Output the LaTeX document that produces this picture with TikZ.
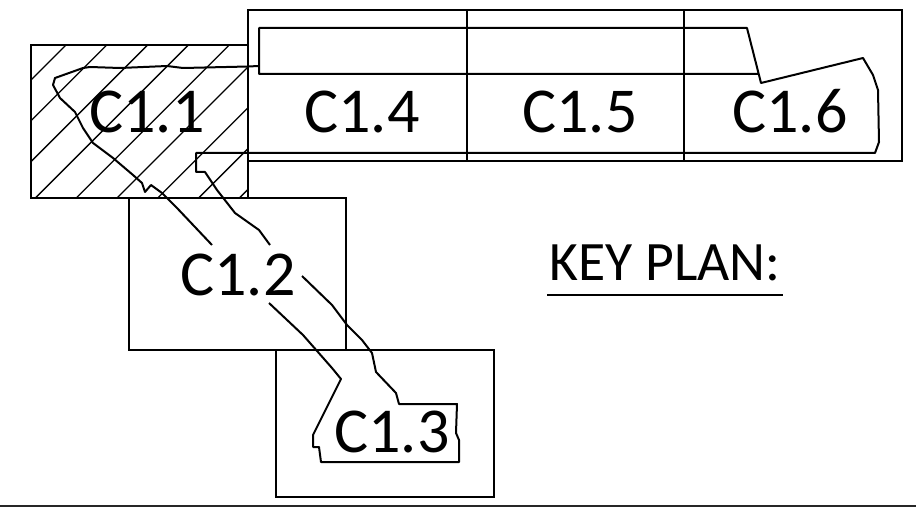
\documentclass[tikz,border=0pt]{standalone}
\usepackage{fontspec}
\setmainfont{Carlito}
\tikzset{
 box/.style={draw=black,line width=2.2pt,fill=none},
 outline/.style={draw=black,line width=2pt,line join=round},
 hatch/.style={draw=black,line width=1.3pt},
 lbl/.style={font=\fontsize{64}{64}\selectfont,text=black,inner sep=0pt,anchor=base},
 keylbl/.style={font=\fontsize{55.6}{56}\selectfont,text=black,inner sep=0pt,anchor=base}
}
\begin{document}
\begin{tikzpicture}[x=1pt,y=-1pt]
\useasboundingbox (0,0) rectangle (916,508);
\begin{scope}
\clip (31,45) rectangle (248,198);
\foreach \c in {111,151.8,192.6,233.4,274.2,315,355.8,396.6,437.4}{
 \draw[hatch] (\c-31,31) -- (\c-220,220);
}
\end{scope}
\draw[box] (31,45) rectangle (248,198);
\draw[box] (129,198) rectangle (346,350);
\draw[box] (276,350) rectangle (494,497);
\draw[box] (248,10) rectangle (902,161);
\draw[box] (467,10) -- (467,161);
\draw[box] (684,10) -- (684,161);
\draw[line width=2.4pt,black!85] (0,506) -- (916,506);
\draw[outline] (259,66) -- (248,66.5) -- (183,68) -- (167,66) -- (120,68) -- (90,67) -- (83,68) -- (55,78) -- (53,85) -- (60,98) -- (75,112) -- (83,128) -- (93,143) -- (113,158) -- (133,175) -- (142,183) -- (145,192) -- (151,185) -- (162,193) -- (177,208) -- (212,245);
\draw[outline] (269,303) -- (303,335) -- (332,368) -- (341,379) -- (313,435) -- (313,447) -- (319,447) -- (321,462) -- (459,462) -- (459,440) -- (456,433) -- (457,404) -- (399,404) -- (396,393) -- (376,372) -- (372,353) -- (362,340) -- (347,325) -- (332,305) -- (302,276);
\draw[outline] (270,245) -- (259,230) -- (235,213) -- (217,190) -- (205,172) -- (196,172) -- (196,153) -- (875,153) -- (879,142) -- (878,90) -- (873,75) -- (863,58) -- (761,83) -- (747,28) -- (259,28) -- (259,74) -- (759,74);
\node[lbl] (c11) at (147,133) {C1.1};
\node[lbl] (c12) at (238,295) {C1.2};
\node[lbl] (c13) at (392,452) {C1.3};
\node[lbl] (c14) at (362,133) {C1.4};
\node[lbl] (c15) at (580,133) {C1.5};
\node[lbl] (c16) at (790,133) {C1.6};
\node[keylbl] (kp) at (665,280) {KEY PLAN:};
\draw[line width=2pt] (547,295) -- (783,295);
\end{tikzpicture}
\end{document}
